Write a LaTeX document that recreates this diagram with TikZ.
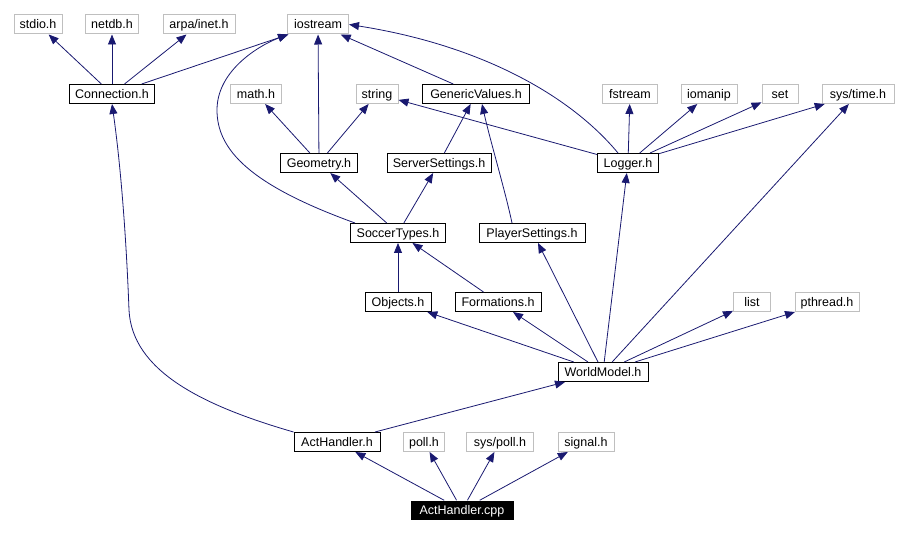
\documentclass[tikz,border=0pt]{standalone}
\usepackage{fontspec}
\setmainfont{Liberation Sans}
\usetikzlibrary{arrows.meta,calc}
\definecolor{edgeblue}{HTML}{191970}
\definecolor{boxgray}{HTML}{BFBFBF}
\tikzset{
  every node/.style={font=\fontsize{12.5}{14}\selectfont, inner sep=0pt, minimum height=19pt, text height=10.5pt, text depth=1.5pt, anchor=center},
  gbox/.style={draw=boxgray, line width=1pt},
  bbox/.style={draw=black, line width=1pt},
  rootbox/.style={fill=black, text=white},
  dep/.style={draw=edgeblue, line width=0.8pt, -{Triangle[length=10pt,width=8pt]}},
}
\begin{document}
\begin{tikzpicture}[x=1pt,y=-1pt]
\useasboundingbox (0,0) rectangle (908,534);
% row 1
\node[gbox, minimum width=48pt] (stdio) at (38,24.5) {stdio.h};
\node[gbox, minimum width=53pt] (netdb) at (112,24.5) {netdb.h};
\node[gbox, minimum width=72pt] (arpa) at (199,24.5) {arpa/inet.h};
\node[gbox, minimum width=61pt] (ios) at (318,24.5) {iostream};
% row 2
\node[bbox, minimum width=85pt] (conn) at (112,94) {Connection.h};
\node[gbox, minimum width=51pt] (math) at (256,94) {math.h};
\node[gbox, minimum width=42pt] (string) at (377,94) {string};
\node[bbox, minimum width=107pt] (gv) at (476,94) {GenericValues.h};
\node[gbox, minimum width=55pt] (fstream) at (630,94) {fstream};
\node[gbox, minimum width=56pt] (iomanip) at (709,94) {iomanip};
\node[gbox, minimum width=36pt] (set) at (780,94) {set};
\node[gbox, minimum width=72pt] (systime) at (858,94) {sys/time.h};
% row 3
\node[bbox, minimum width=77pt] (geom) at (319,163) {Geometry.h};
\node[bbox, minimum width=104pt] (ss) at (439,163) {ServerSettings.h};
\node[bbox, minimum width=61pt] (log) at (628,163) {Logger.h};
% row 4
\node[bbox, minimum width=95pt] (st) at (398,233) {SoccerTypes.h};
\node[bbox, minimum width=106pt] (ps) at (532,233) {PlayerSettings.h};
% row 5
\node[bbox, minimum width=66pt] (obj) at (398,302) {Objects.h};
\node[bbox, minimum width=86pt] (form) at (498,302) {Formations.h};
\node[gbox, minimum width=37pt] (list) at (752,302) {list};
\node[gbox, minimum width=64pt] (pthread) at (827,302) {pthread.h};
% row 6
\node[bbox, minimum width=90pt] (wm) at (603,372) {WorldModel.h};
% row 7
\node[bbox, minimum width=86pt] (acth) at (337,442) {ActHandler.h};
\node[gbox, minimum width=41pt] (poll) at (424,442) {poll.h};
\node[gbox, minimum width=67pt] (syspoll) at (500,442) {sys/poll.h};
\node[gbox, minimum width=56pt] (signal) at (586,442) {signal.h};
% root
\node[rootbox, minimum width=103pt] (cpp) at (462,510) {ActHandler.cpp};

% edges
\draw[dep] (cpp) -- (acth);
\draw[dep] (cpp) -- (poll);
\draw[dep] (cpp) -- (syspoll);
\draw[dep] (cpp) -- (signal);
\draw[dep] (acth.north west) .. controls (200,405) and (132,370) .. (129,310)
  .. controls (126,230) and (120,160) .. (conn.south);
\draw[dep] (acth) -- (wm);
\draw[dep] (conn) -- (stdio);
\draw[dep] (conn) -- (netdb);
\draw[dep] (conn) -- (arpa);
\draw[dep] (conn) -- (ios);
\draw[dep] (wm) -- (obj);
\draw[dep] (wm) -- (form);
\draw[dep] (wm) -- ($(ps.south)+(6,0)$);
\draw[dep] (wm) -- (log);
\draw[dep] (wm) -- (list);
\draw[dep] (wm) -- (pthread);
\draw[dep] (wm) -- (systime);
\draw[dep] (obj) -- (st);
\draw[dep] (form) -- (st);
\draw[dep] (st) -- (geom);
\draw[dep] (st) -- (ss);
\draw[dep] ($(st.north west)+(5,0)$) .. controls (250,185) and (217,150) .. (217,110)
  .. controls (217,70) and (260,45) .. ($(ios.south west)+(1,0)$);
\draw[dep] (geom) -- (math);
\draw[dep] (geom) -- (string);
\draw[dep] (geom) -- (ios);
\draw[dep] (ss) -- (gv);
\draw[dep] ($(ps.north)+(-20,0)$) .. controls (505,190) and (490,140) .. ($(gv.south)+(6,0)$);
\draw[dep] (gv) -- (ios);
\draw[dep] (log) -- (string);
\draw[dep] ($(log.north)+(-10,0)$) .. controls (570,95) and (480,45) .. (ios.east);
\draw[dep] (log) -- (fstream);
\draw[dep] (log) -- (iomanip);
\draw[dep] (log) -- (set);
\draw[dep] (log) -- (systime);
\end{tikzpicture}
\end{document}
